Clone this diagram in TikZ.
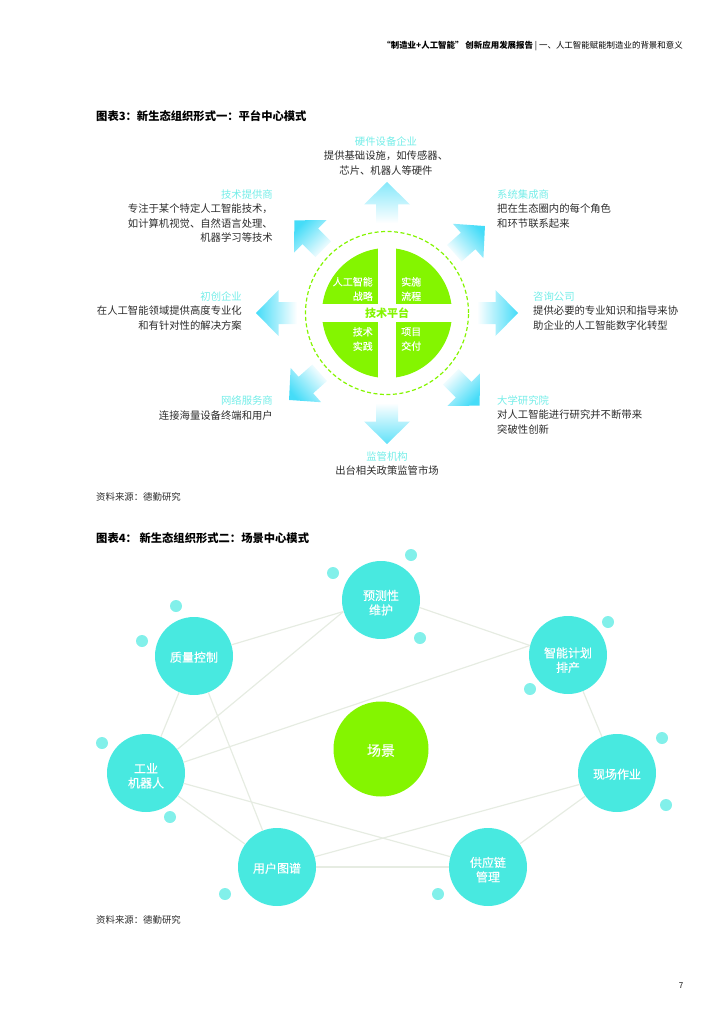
\documentclass[tikz,border=0pt]{standalone}
\usepackage{fontspec}
\setmainfont{Noto Sans CJK SC}
\definecolor{siteteal}{HTML}{48E9E0}
\definecolor{spotteal}{HTML}{82F0EA}
\definecolor{titleteal}{HTML}{74EDE8}
\definecolor{techgreen}{HTML}{84F500}
\definecolor{linkgrey}{HTML}{E6ECE2}
\definecolor{arrowcyan}{HTML}{45DCF8}
\definecolor{bodygrey}{HTML}{2C2C2C}
\tikzset{
  every node/.style={inner sep=0pt, text=bodygrey},
  blurb/.style={font=\fontsize{10.35}{14.5}\selectfont},
  caption/.style={font=\fontsize{11.3}{14}\selectfont\bfseries, anchor=west, text=black},
  source/.style={font=\fontsize{9.4}{12}\selectfont, anchor=west},
  quad/.style={font=\fontsize{10}{14.5}\selectfont\addfontfeature{FakeBold=0.3}, text=white},
  site/.style={circle, fill=siteteal, minimum size=78pt, align=center, text=white,
    font=\fontsize{12}{14.5}\selectfont\addfontfeature{FakeBold=0.3},
    execute at begin node={\rule{0pt}{#1}}},
  site/.default=12.5pt,
  spot/.style={circle, fill=spotteal, minimum size=12pt},
  link/.style={draw=linkgrey, line width=1.2pt}
}
\newcommand{\blurbtitle}[1]{\textcolor{titleteal}{#1}}
\begin{document}
\begin{tikzpicture}[x=1pt,y=-1pt]
  \useasboundingbox (0,0) rectangle (724,1024);
  % page furniture
  \node[name=header, anchor=east, font=\fontsize{8.45}{10}\selectfont, text=black] at (683,46.5) {\textbf{“制造业+人工智能”\ 创新应用发展报告}\ |\ 一、人工智能赋能制造业的背景和意义};
  \node[name=pageno, font=\fontsize{8}{10}\selectfont, text=black] at (681,986) {7};
  \node[name=caption3, caption] at (96,116) {图表3：新生态组织形式一：平台中心模式};
  \node[name=caption4, caption] at (96,538) {图表4：\ 新生态组织形式二：场景中心模式};
  \node[name=source3, source] at (96,497) {资料来源：德勤研究};
  \node[name=source4, source] at (96,920) {资料来源：德勤研究};

  % platform
  \coordinate (hub) at (387,313);
  \foreach \ang/\tint in {0/100,41.6/100,90/65,135/100,180/100,221.6/100,270/85,315/100}{
    \shade[bottom color=white, top color=arrowcyan!\tint, shading angle=\ang-90, shift={(hub)}, rotate=\ang]
      (90,-11) -- (108.5,-11) -- (108.5,-23) -- (131,0) -- (108.5,23) -- (108.5,11) -- (90,11) -- cycle;
  }
  \node[name=ring, circle, minimum size=163pt, draw=techgreen, line width=1.2pt, dash pattern=on 4pt off 2.5pt] at (hub) {};
  \begin{scope}
    \clip (hub) circle (65pt);
    \fill[techgreen] (320,246) rectangle (378,304);
    \fill[techgreen] (396,246) rectangle (454,304);
    \fill[techgreen] (320,322) rectangle (378,380);
    \fill[techgreen] (396,322) rectangle (454,380);
  \end{scope}
  \node[name=q1, quad, align=right, anchor=east] at (373,289) {人工智能\\战略};
  \node[name=q2, quad, align=left, anchor=west] at (401,289) {实施\\流程};
  \node[name=q3, quad, align=right, anchor=east] at (373,339) {技术\\实践};
  \node[name=q4, quad, align=left, anchor=west] at (401,339) {项目\\交付};
  \node[name=platform, font=\fontsize{11}{13}\selectfont\bfseries, text=techgreen] at (hub) {技术平台};

  % partners
  \node[name=hardware, blurb, align=center] at (386,156) {\blurbtitle{硬件设备企业}\\提供基础设施，如传感器、\\芯片、机器人等硬件};
  \node[name=provider, blurb, align=right, anchor=east] at (273,216) {\blurbtitle{技术提供商}\\专注于某个特定人工智能技术，\\如计算机视觉、自然语言处理、\\机器学习等技术};
  \node[name=integrator, blurb, align=left, anchor=west] at (497,209) {\blurbtitle{系统集成商}\\把在生态圈内的每个角色\\和环节联系起来};
  \node[name=startup, blurb, align=right, anchor=east] at (242,311) {\blurbtitle{初创企业}\\在人工智能领域提供高度专业化\\和有针对性的解决方案};
  \node[name=consult, blurb, align=left, anchor=west] at (533,311) {\blurbtitle{咨询公司}\\提供必要的专业知识和指导来协\\助企业的人工智能数字化转型};
  \node[name=network, blurb, align=right, anchor=east] at (273,408) {\blurbtitle{网络服务商}\\连接海量设备终端和用户};
  \node[name=university, blurb, align=left, anchor=west] at (497,415) {\blurbtitle{大学研究院}\\对人工智能进行研究并不断带来\\突破性创新};
  \node[name=regulator, blurb, align=center] at (387,463.5) {\blurbtitle{监管机构}\\出台相关政策监管市场};

  % scene
  \node[name=predict, site=30pt] at (381,600) {预测性\\维护};
  \node[name=quality, site] at (194,656) {质量控制};
  \node[name=plan, site=35pt] at (568,655) {智能计划\\排产};
  \node[name=robot, site=30pt] at (146,773) {工业\\机器人};
  \node[name=field, site] at (617,773) {现场作业};
  \node[name=graph, site] at (277,867) {用户图谱};
  \node[name=supply, site=30pt] at (488,867) {供应链\\管理};
  \node[name=scene, circle, fill=techgreen, minimum size=95pt, text=white, font=\fontsize{14}{17}\selectfont\addfontfeature{FakeBold=0.3},
    execute at begin node={\rule{0pt}{14.5pt}}] at (381,749) {场景};
  \draw[link] (quality) -- (predict.197);
  \draw[link] (robot.37) -- (predict.197);
  \draw[link] (robot.16) -- (plan.166);
  \draw[link] (predict.349) -- (plan.166);
  \draw[link] (graph) -- (field.197);
  \foreach \a/\b in {quality/robot, quality/graph, robot/graph, robot/supply, graph/supply, supply/field, plan/field}
    \draw[link] (\a) -- (\b);
  \foreach \px/\py [count=\i] in {411/555, 333/573, 420/638, 176/606, 142/641, 102/743, 170/817,
    225/894, 438/894, 608/622, 530/689, 662/738, 666/805}
    \node[name=spot\i, spot] at (\px,\py) {};
\end{tikzpicture}
\end{document}
